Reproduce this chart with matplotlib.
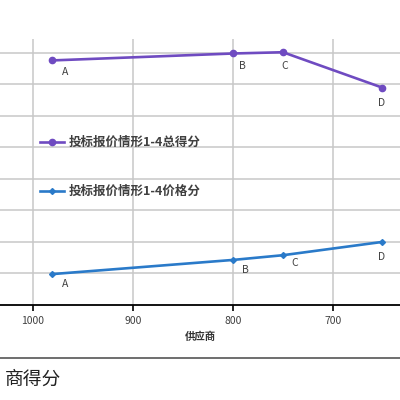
import matplotlib
matplotlib.use("Agg")
import matplotlib.pyplot as plt
from matplotlib.lines import Line2D

plt.rcParams['font.family'] = ['Noto Sans CJK SC', 'DejaVu Sans']

# supplier quotes (x) and scores
suppliers = ['A', 'B', 'C', 'D']
quotes = [981, 800, 750, 651]
total_score = [77.6, 79.8, 80.2, 69.0]
price_score = [9.8, 14.3, 15.8, 20.0]
x_ticks = [1000, 900, 800, 700]

purple = '#6f4bc1'
blue = '#2a7ac9'

fig = plt.figure(figsize=(4, 4), dpi=100)
ax = fig.add_axes([-0.05, 0.2375, 1.1, 0.665])

ax.plot(quotes, total_score, color=purple, lw=1.9, marker='o', ms=4.5,
        label='投标报价情形1-4总得分', zorder=3)
ax.plot(quotes, price_score, color=blue, lw=1.9, marker='D', ms=3,
        label='投标报价情形1-4价格分', zorder=3)

# point labels (offsets in pixels, roughly as Excel placed them)
off_total = [(13, -12), (9, -13), (2, -14), (0, -15)]
off_price = [(13, -10), (12, -10), (12, -8), (0, -15)]
for name, x, y, o in zip(suppliers, quotes, total_score, off_total):
    ax.annotate(name, (x, y), xytext=o, textcoords='offset pixels',
                ha='center', va='center', fontsize=7.5, color='#404040')
for name, x, y, o in zip(suppliers, quotes, price_score, off_price):
    ax.annotate(name, (x, y), xytext=o, textcoords='offset pixels',
                ha='center', va='center', fontsize=7.5, color='#404040')

ax.set_xlim(1053, 613)
ax.set_ylim(0, 84.4)
ax.set_xticks(x_ticks)
ax.set_yticks(range(10, 81, 10))
ax.tick_params(axis='y', length=0, labelleft=False)
ax.tick_params(axis='x', direction='out', length=4, width=1.2, color='black',
               labelsize=7.5, labelcolor='#404040', pad=4)
ax.grid(True, color='#c8c8c8', lw=1.1)
ax.set_axisbelow(True)
for s in ['top', 'left', 'right']:
    ax.spines[s].set_visible(False)
ax.spines['bottom'].set_color('black')
ax.spines['bottom'].set_linewidth(1.3)
ax.set_xlabel('供应商', fontsize=7.5, color='#333333', labelpad=4,
              fontweight='bold')

leg = ax.legend(loc='upper left', bbox_to_anchor=(40 / 400, 1 - 136 / 400),
                bbox_transform=fig.transFigure, frameon=False,
                prop={'size': 9, 'weight': 'bold'},
                handlelength=1.9, handletextpad=0.4, labelspacing=2.9,
                borderpad=0, borderaxespad=0)
for t in leg.get_texts():
    t.set_color('#404040')

# the page text beneath the chart
fig.add_artist(Line2D([0, 1], [1 - 358 / 400] * 2, color='#555555', lw=1.2,
                      transform=fig.transFigure))
fig.text(5 / 400, 1 - 379 / 400, '商得分', fontsize=13.5, color='#222222',
         va='center', ha='left')

fig.savefig('out.png', dpi=100)
